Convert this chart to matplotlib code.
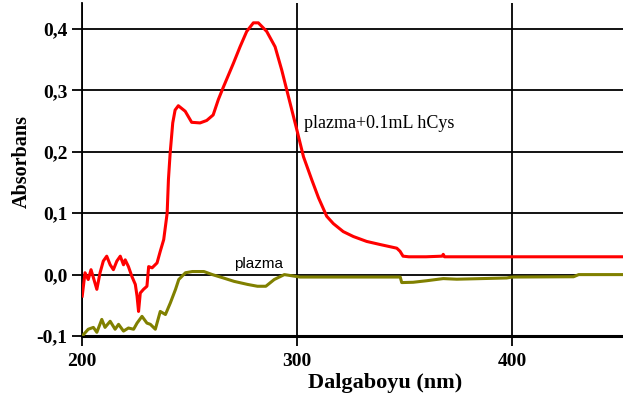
import matplotlib
matplotlib.use("Agg")
import matplotlib.pyplot as plt
from matplotlib.ticker import FuncFormatter

# Spectrum of plasma spiked with 0.1 mL hCys (wavelength nm, absorbance)
spiked_nm = [200.1, 201.4, 202.9, 204.2, 205.3, 206.9, 208.4, 209.9, 211.5, 213.1,
             214.6, 216.2, 217.8, 219.3, 220.1, 221.6, 223.2, 224.8, 225.6, 226.3,
             227.1, 228.6, 230.2, 231.0, 232.6, 234.9, 236.4, 238.0, 239.6, 240.2,
             241.0, 242.2, 243.3, 244.8, 248.0, 251.0, 254.9, 258.0, 261.0, 263.4,
             265.7, 270.4, 273.5, 276.6, 279.7, 282.0, 285.9, 289.8, 292.9, 296.0,
             299.9, 303.0, 306.9, 310.0, 313.8, 316.9, 321.5, 326.2, 332.4, 338.6,
             346.4, 347.9, 349.3, 352.0, 360.0, 367.5, 368.0, 368.6, 380.0, 395.0,
             410.0, 430.0, 452.0]
spiked_abs = [-0.035, 0.003, -0.008, 0.008, -0.005, -0.024, 0.003, 0.022, 0.030, 0.016,
              0.008, 0.022, 0.030, 0.016, 0.024, 0.013, -0.003, -0.016, -0.035, -0.060,
              -0.030, -0.024, -0.019, 0.013, 0.011, 0.019, 0.038, 0.057, 0.100, 0.155,
              0.198, 0.247, 0.268, 0.275, 0.266, 0.248, 0.247, 0.251, 0.260, 0.285,
              0.305, 0.344, 0.371, 0.396, 0.410, 0.410, 0.396, 0.371, 0.333, 0.290,
              0.236, 0.192, 0.154, 0.125, 0.095, 0.083, 0.070, 0.062, 0.054, 0.049,
              0.043, 0.038, 0.030, 0.029, 0.029, 0.030, 0.033, 0.029, 0.029, 0.029,
              0.029, 0.029, 0.029]

# Plain plasma spectrum
plasma_nm = [200.6, 202.9, 205.3, 206.9, 209.2, 210.7, 213.1, 215.4, 217.0, 219.3,
             221.6, 224.0, 225.6, 227.9, 230.2, 231.8, 234.1, 236.4, 238.8, 241.1,
             243.5, 245.0, 248.1, 251.3, 256.7, 260.6, 265.3, 270.7, 277.0, 281.6,
             285.5, 289.4, 294.1, 301.4, 320.0, 340.0, 348.0, 348.7, 354.0, 360.3,
             368.0, 374.3, 397.5, 400.0, 428.6, 431.0, 452.0]
plasma_abs = [-0.098, -0.089, -0.086, -0.094, -0.073, -0.086, -0.076, -0.089, -0.081, -0.092,
              -0.087, -0.089, -0.079, -0.068, -0.079, -0.081, -0.089, -0.060, -0.065, -0.046,
              -0.024, -0.008, 0.003, 0.005, 0.005, 0.000, -0.005, -0.011, -0.016, -0.019,
              -0.019, -0.008, 0.000, -0.004, -0.004, -0.004, -0.004, -0.013, -0.0125, -0.010,
              -0.0065, -0.0075, -0.0055, -0.004, -0.0035, 0.000, 0.000]

x_ticks = [200, 300, 400]
y_ticks = [-0.1, 0.0, 0.1, 0.2, 0.3, 0.4]

W, H = 623, 407
fig = plt.figure(figsize=(W / 100, H / 100), dpi=100)
ax = fig.add_axes([82 / W, 71 / H, (W - 82) / W, (404 - 71) / H])

ax.plot(plasma_nm, plasma_abs, color="#808000", lw=2.2, zorder=3)
ax.plot(spiked_nm, spiked_abs, color="#ff0000", lw=2.2, zorder=4)

ax.set_xlim(200, 451.6)
ax.set_ylim(-0.1, 0.4423)
ax.set_xticks(x_ticks)
ax.set_yticks(y_ticks)
ax.yaxis.set_major_formatter(FuncFormatter(lambda v, p: f"{v:.1f}".replace(".", ",")))

ax.grid(True, color="black", lw=1.3)
ax.set_axisbelow(True)
for side in ("top", "right"):
    ax.spines[side].set_visible(False)
ax.spines["left"].set_linewidth(1.3)
ax.spines["bottom"].set_linewidth(2.2)
ax.tick_params(axis="both", direction="out", length=7.5, width=1.3, color="black")
ax.tick_params(axis="x", pad=5)
ax.tick_params(axis="y", pad=3)

serif = ["Liberation Serif", "DejaVu Serif"]
for lab in ax.get_xticklabels() + ax.get_yticklabels():
    lab.set_family(serif)
    lab.set_weight("bold")
    lab.set_fontsize(14)

fig.text(385 / W, 1 - 383 / H, "Dalgaboyu (nm)", family=serif, weight="bold",
         fontsize=16, ha="center", va="center")
fig.text(22 / W, 1 - 161 / H, "Absorbans", family=serif, weight="bold",
         fontsize=14.5, rotation=90, ha="center", va="center")

ax.text(303.3, 0.239, "plazma+0.1mL hCys", family=serif, fontsize=13,
        ha="left", va="baseline")
ax.text(282.2, 0.011, "plazma", family=["Liberation Sans", "DejaVu Sans"],
        fontsize=11, ha="center", va="baseline")

fig.savefig("out.png", dpi=100)
